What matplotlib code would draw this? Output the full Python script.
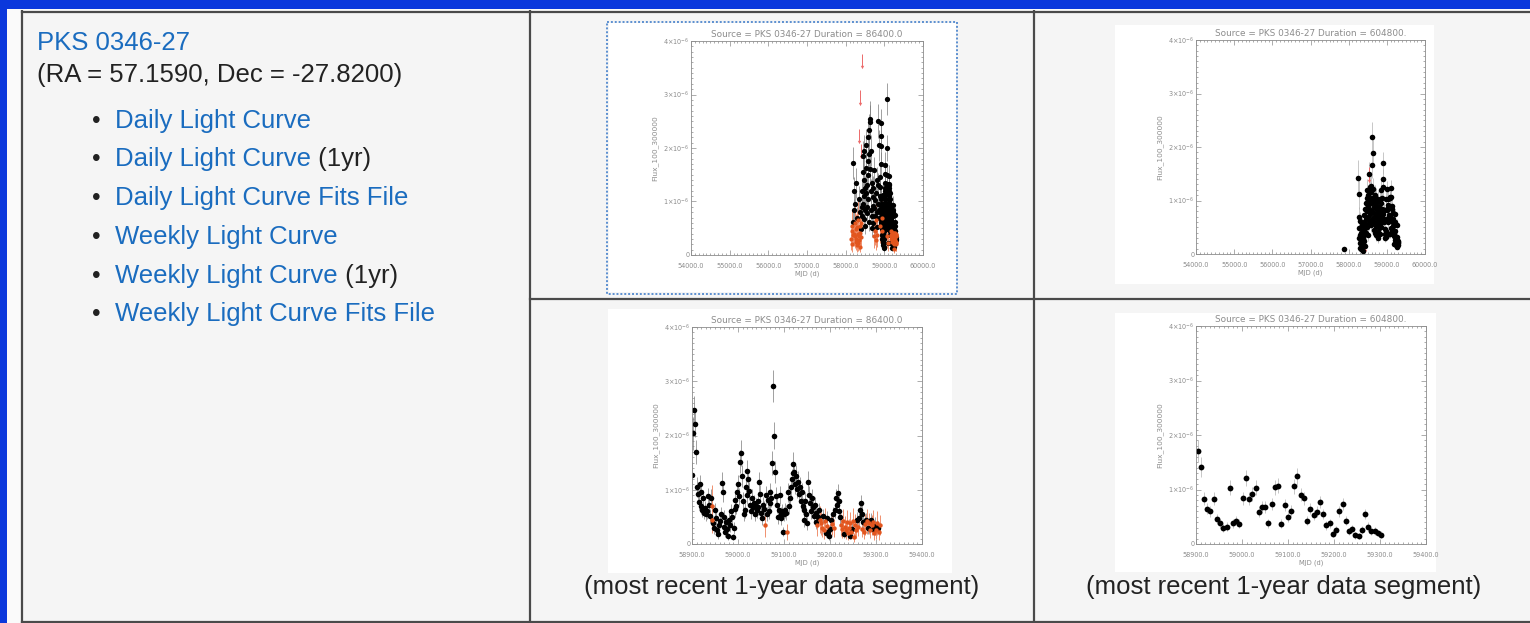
import numpy as np
import matplotlib.pyplot as plt
from matplotlib.patches import Rectangle
from matplotlib.ticker import MultipleLocator, AutoMinorLocator, FuncFormatter

plt.rcParams['font.family'] = ['Liberation Sans', 'DejaVu Sans']
plt.rcParams['mathtext.fontset'] = 'dejavusans'

W, H = 1530, 623  # output size in pixels (dpi 100)

# ---- page text
source_name = "PKS 0346-27"
source_pos = "(RA = 57.1590, Dec = -27.8200)"
link_labels = ["Daily Light Curve", "Daily Light Curve", "Daily Light Curve Fits File",
               "Weekly Light Curve", "Weekly Light Curve", "Weekly Light Curve Fits File"]
link_suffix = ["", " (1yr)", "", "", " (1yr)", ""]
caption = "(most recent 1-year data segment)"

# ---- plot text / ticks
title_daily = "Source = PKS 0346-27 Duration = 86400.0"
title_weekly = "Source = PKS 0346-27 Duration = 604800."
x_label = "MJD (d)"
y_label = "Flux_100_300000"
full_range = (54000, 60000)
recent_range = (58900, 59400)

# ---- daily light curve (flux in 1e-6 ph/cm2/s)
daily_early_start, daily_early_step = 58150.5, 8.0
daily_early_flux = [
    0.30, 0.45, 0.20, 0.55, 0.38, 0.62, 1.72, 1.20, 0.85, 0.40,
    0.95, 0.35, 0.60, 0.25, 0.48, 1.34, 0.30, 0.52, 0.18, 0.70,
    0.40, 0.22, 0.65, 0.35, 1.05, 0.28, 0.55, 0.15, 0.80, 0.42,
    0.33, 0.60, 0.48, 0.90, 1.20, 0.72, 1.55, 0.95, 1.85, 1.10,
    0.68, 1.40, 1.95, 0.85, 1.25, 0.55, 1.62, 2.05, 1.15, 0.78,
    1.30, 0.90, 1.75, 2.20, 1.05, 1.50, 0.62, 2.33, 1.88, 2.55,
    2.48, 1.60, 1.20, 0.85, 1.95, 0.72, 1.35, 0.50, 1.08, 0.92,
    0.60, 1.25, 0.35, 0.88, 1.58, 0.45, 0.72, 1.02, 0.28, 0.65,
    1.15, 0.52, 0.80, 1.40, 0.38, 0.95, 2.50, 1.30, 0.70, 2.05,
    0.85, 1.45, 0.55, 1.10]
daily_early_err = [
    0.20, 0.26, 0.14, 0.30, 0.22, 0.18, 0.30, 0.25, 0.20, 0.24,
    0.22, 0.21, 0.34, 0.16, 0.28, 0.28, 0.19, 0.30, 0.12, 0.20,
    0.24, 0.15, 0.36, 0.20, 0.24, 0.18, 0.30, 0.10, 0.22, 0.26,
    0.20, 0.33, 0.16, 0.20, 0.24, 0.18, 0.26, 0.20, 0.28, 0.22,
    0.17, 0.24, 0.30, 0.20, 0.23, 0.16, 0.26, 0.30, 0.22, 0.18,
    0.24, 0.20, 0.27, 0.30, 0.22, 0.25, 0.17, 0.30, 0.28, 0.32,
    0.32, 0.26, 0.22, 0.19, 0.29, 0.18, 0.23, 0.16, 0.21, 0.20,
    0.17, 0.23, 0.22, 0.19, 0.26, 0.27, 0.18, 0.21, 0.18, 0.35,
    0.22, 0.16, 0.19, 0.24, 0.23, 0.20, 0.32, 0.23, 0.18, 0.29,
    0.20, 0.25, 0.32, 0.21]

daily_recent_start, daily_recent_step = 58900.5, 2.0
daily_recent_flux = [
    1.27, 2.04, 2.47, 2.22, 1.70, 1.05, 0.92, 0.78, 1.10, 0.70,
    0.95, 0.62, 0.84, 0.58, 0.66, 0.55, 0.60, 0.88, 0.72, 0.52,
    0.85, 0.45, 0.70, 0.38, 0.30, 0.62, 0.48, 0.25, 0.18, 0.35,
    0.42, 0.55, 1.12, 0.95, 0.50, 0.32, 0.22, 0.40, 0.28, 0.15,
    0.45, 0.35, 0.60, 0.50, 0.13, 0.30, 0.65, 0.82, 0.70, 0.95,
    1.10, 0.88, 1.52, 1.68, 1.25, 0.80, 0.55, 0.62, 1.05, 0.90,
    1.35, 1.20, 0.98, 0.72, 0.60, 0.85, 0.68, 0.75, 0.55, 0.70,
    0.62, 0.80, 0.68, 1.14, 0.92, 0.58, 0.48, 0.72, 0.65, 0.35,
    0.90, 0.55, 0.82, 0.60, 0.95, 0.75, 0.85, 1.50, 2.91, 2.00,
    1.33, 0.88, 0.72, 0.50, 0.62, 0.90, 0.55, 0.48, 0.60, 0.23,
    0.55, 0.62, 0.58, 0.22, 0.95, 0.70, 0.85, 1.05, 1.20, 1.30,
    1.48, 1.32, 1.10, 1.25, 1.02, 1.15, 0.92, 1.05, 0.80, 0.95,
    0.70, 0.45, 0.62, 0.80, 0.55, 0.38, 1.15, 0.90, 0.75, 0.60,
    0.85, 0.68, 0.52, 0.72, 0.40, 0.58, 0.35, 0.50, 0.62, 0.45,
    0.38, 0.30, 0.52, 0.25, 0.42, 0.20, 0.33, 0.48, 0.22, 0.14,
    0.28, 0.45, 0.36, 0.55, 0.30, 0.62, 0.85, 0.72, 0.94, 0.60,
    0.80, 0.50, 0.35, 0.28, 0.42, 0.18, 0.32, 0.25, 0.40, 0.20,
    0.30, 0.15, 0.38, 0.22, 0.28, 0.42, 0.12, 0.35, 0.25, 0.45,
    0.32, 0.48, 0.62, 0.75, 0.55, 0.28, 0.40, 0.22, 0.36, 0.45,
    0.42, 0.30, 0.38, 0.25, 0.45, 0.35, 0.28, 0.40, 0.20, 0.33,
    0.25, 0.38, 0.30, 0.22, 0.35]
daily_recent_err = [
    0.25, 0.30, 0.25, 0.25, 0.22, 0.18, 0.16, 0.15, 0.18, 0.14,
    0.15, 0.13, 0.15, 0.12, 0.13, 0.12, 0.13, 0.16, 0.15, 0.13,
    0.16, 0.25, 0.38, 0.12, 0.11, 0.14, 0.13, 0.10, 0.08, 0.12,
    0.12, 0.14, 0.20, 0.18, 0.13, 0.12, 0.10, 0.12, 0.10, 0.07,
    0.13, 0.12, 0.14, 0.13, 0.06, 0.11, 0.15, 0.16, 0.15, 0.17,
    0.18, 0.16, 0.22, 0.24, 0.20, 0.15, 0.13, 0.14, 0.18, 0.17,
    0.20, 0.19, 0.17, 0.15, 0.13, 0.16, 0.14, 0.15, 0.13, 0.14,
    0.14, 0.16, 0.15, 0.19, 0.17, 0.14, 0.13, 0.15, 0.14, 0.22,
    0.17, 0.13, 0.16, 0.14, 0.18, 0.15, 0.16, 0.22, 0.30, 0.25,
    0.20, 0.17, 0.15, 0.13, 0.14, 0.17, 0.13, 0.13, 0.14, 0.09,
    0.13, 0.14, 0.13, 0.14, 0.18, 0.15, 0.16, 0.18, 0.19, 0.20,
    0.21, 0.20, 0.18, 0.20, 0.17, 0.19, 0.17, 0.18, 0.16, 0.17,
    0.15, 0.13, 0.14, 0.16, 0.14, 0.12, 0.19, 0.17, 0.15, 0.14,
    0.16, 0.15, 0.13, 0.15, 0.12, 0.14, 0.20, 0.13, 0.14, 0.25,
    0.21, 0.18, 0.13, 0.16, 0.24, 0.08, 0.19, 0.13, 0.09, 0.06,
    0.11, 0.13, 0.20, 0.14, 0.17, 0.14, 0.16, 0.15, 0.17, 0.14,
    0.16, 0.13, 0.20, 0.17, 0.23, 0.07, 0.19, 0.15, 0.22, 0.12,
    0.17, 0.06, 0.21, 0.13, 0.11, 0.24, 0.08, 0.20, 0.14, 0.14,
    0.18, 0.14, 0.14, 0.15, 0.22, 0.16, 0.12, 0.13, 0.20, 0.13,
    0.23, 0.11, 0.20, 0.14, 0.13, 0.19, 0.10, 0.22, 0.12, 0.16,
    0.15, 0.22, 0.12, 0.14, 0.19]

daily_ul_mjd = [58410, 58365, 58340, 58402]
daily_ul_flux = [3.76, 3.08, 2.36, 2.08]

# ---- weekly light curve (flux in 1e-6 ph/cm2/s)
weekly_lone_mjd = [57886.5]
weekly_lone_flux = [0.10]
weekly_lone_err = [0.04]
weekly_start, weekly_step = 58252.5, 7.0
weekly_flux = [
    1.42, 1.12, 0.70, 0.30, 0.48, 0.20, 0.62, 0.12, 0.35, 0.25,
    0.10, 0.40, 0.22, 0.55, 0.15, 0.30, 0.06, 0.45, 0.28, 0.18,
    0.35, 0.60, 0.25, 0.72, 0.48, 0.15, 0.85, 0.55, 0.40, 0.95,
    0.65, 1.05, 0.50, 0.80, 1.20, 0.35, 0.90, 0.70, 1.10, 0.58,
    1.50, 0.85, 1.25, 0.62, 1.00, 0.75, 1.28, 0.95, 0.55, 1.15,
    0.80, 1.66, 1.05, 2.19, 1.89, 1.22, 0.68, 1.00, 0.45, 0.88,
    0.60, 1.10, 0.75, 0.40, 0.95, 0.52, 0.70, 1.05, 0.35, 0.82,
    0.58, 0.90, 0.42, 0.65, 1.00, 0.30, 0.72, 0.55, 0.88, 0.48,
    0.62, 1.02, 0.38, 0.78, 0.95, 0.50, 1.20, 0.70, 0.85, 0.60,
    1.05, 0.75, 1.25,
    1.70, 1.41, 0.83, 0.65, 0.60, 0.83, 0.46, 0.38, 0.29, 0.32,
    1.03, 0.38, 0.43, 0.37, 0.84, 1.21, 0.83, 0.92, 1.03, 0.59,
    0.67, 0.67, 0.38, 0.73, 1.04, 1.07, 0.37, 0.71, 0.49, 0.61,
    1.06, 1.24, 0.90, 0.84, 0.43, 0.65, 0.53, 0.59, 0.77, 0.55,
    0.34, 0.38, 0.19, 0.26, 0.60, 0.74, 0.43, 0.23, 0.28, 0.16,
    0.14, 0.26, 0.55, 0.32, 0.23, 0.24, 0.20, 0.17]
weekly_err = [
    0.33, 0.28, 0.18, 0.10, 0.14, 0.08, 0.16, 0.06, 0.11, 0.09,
    0.05, 0.12, 0.08, 0.14, 0.06, 0.10, 0.03, 0.13, 0.09, 0.07,
    0.11, 0.15, 0.09, 0.16, 0.13, 0.06, 0.17, 0.14, 0.12, 0.18,
    0.15, 0.19, 0.13, 0.16, 0.20, 0.11, 0.17, 0.15, 0.19, 0.14,
    0.22, 0.17, 0.20, 0.14, 0.18, 0.16, 0.21, 0.18, 0.13, 0.19,
    0.16, 0.24, 0.18, 0.28, 0.26, 0.20, 0.15, 0.18, 0.12, 0.17,
    0.14, 0.19, 0.16, 0.11, 0.18, 0.13, 0.15, 0.19, 0.10, 0.16,
    0.14, 0.17, 0.12, 0.15, 0.18, 0.10, 0.15, 0.13, 0.17, 0.13,
    0.14, 0.18, 0.11, 0.16, 0.17, 0.13, 0.20, 0.15, 0.16, 0.14,
    0.18, 0.15, 0.20,
    0.20, 0.18, 0.12, 0.10, 0.10, 0.12, 0.09, 0.08, 0.07, 0.08,
    0.14, 0.08, 0.09, 0.08, 0.12, 0.15, 0.12, 0.13, 0.14, 0.10,
    0.11, 0.11, 0.08, 0.11, 0.14, 0.14, 0.08, 0.11, 0.09, 0.10,
    0.14, 0.15, 0.12, 0.12, 0.09, 0.10, 0.09, 0.10, 0.11, 0.09,
    0.08, 0.08, 0.06, 0.07, 0.10, 0.11, 0.09, 0.07, 0.07, 0.06,
    0.05, 0.07, 0.10, 0.08, 0.07, 0.07, 0.06, 0.06]
weekly_ul_mjd = [58530, 58440]
weekly_ul_flux = [1.62, 0.30]

# colours
page_blue = '#0b38dc'
cell_bg = '#f5f5f5'
rule_col = '#4a4a4a'
link_col = '#1a6cbf'
text_col = '#222222'
idl_grey = '#8c8c8c'
low_ts = '#e2561f'
low_ts_bar = '#f0906e'
ul_red = '#ec6a6a'


def grid_mjd(start, step, n):
    return start + step * np.arange(n)


daily_mjd = np.concatenate([grid_mjd(daily_early_start, daily_early_step, len(daily_early_flux)),
                            grid_mjd(daily_recent_start, daily_recent_step, len(daily_recent_flux))])
daily_flux = np.array(daily_early_flux + daily_recent_flux)
daily_err = np.array(daily_early_err + daily_recent_err)

weekly_mjd = np.concatenate([weekly_lone_mjd, grid_mjd(weekly_start, weekly_step, len(weekly_flux))])
weekly_all_flux = np.array(weekly_lone_flux + weekly_flux)
weekly_all_err = np.array(weekly_lone_err + weekly_err)


fig = plt.figure(figsize=(W / 100, H / 100), dpi=100)
fig.patch.set_facecolor(page_blue)

# page layer in pixel coordinates
page = fig.add_axes([0, 0, 1, 1])
page.set_xlim(0, W)
page.set_ylim(H, 0)
page.axis('off')

page.add_patch(Rectangle((7, 9), W - 7, H - 9, color='#fafafa', lw=0))
page.add_patch(Rectangle((22, 11), W - 22, H - 11, color=cell_bg, lw=0))
for x in [22.5, 530.5, 1034.5]:
    page.plot([x, x], [10, H], color=rule_col, lw=1.6, solid_capstyle='butt')
page.plot([22, W], [11.5, 11.5], color=rule_col, lw=1.6)
page.plot([530, W], [298.5, 298.5], color=rule_col, lw=1.6)
page.plot([22, W], [621.5, 621.5], color=rule_col, lw=1.6)

# white plot images
for (x0, y0, x1, y1) in [(609, 23, 956, 292), (1115, 25, 1434, 284),
                         (608, 309, 952, 573), (1115, 313, 1436, 572)]:
    page.add_patch(Rectangle((x0, y0), x1 - x0, y1 - y0, color='white', lw=0))
page.add_patch(Rectangle((607.5, 21.5), 350, 272, fill=False, ec='#5b8fd0', lw=1.4,
                         ls=(0, (1, 1))))

# left cell text
page.text(37, 50, source_name, fontsize=18.5, color=link_col, va='baseline')
page.text(37, 82, source_pos, fontsize=18.5, color=text_col, va='baseline')
for i, (lab, suf) in enumerate(zip(link_labels, link_suffix)):
    yb = 127.7 + 38.7 * i
    page.text(96, yb, "\u2022", fontsize=17.5, color=text_col, va='baseline', ha='center')
    t = page.text(115, yb, lab, fontsize=18.5, color=link_col, va='baseline')
    if suf:
        page.annotate(suf, xy=(1, 0), xycoords=t, fontsize=18.5, color=text_col,
                      va='bottom', ha='left')

for xc in [782, 1284]:
    page.text(xc, 594, caption, fontsize=18.5, color=text_col, va='baseline', ha='center')


def px_axes(x0, y0, x1, y1):
    return fig.add_axes([x0 / W, 1 - y1 / H, (x1 - x0) / W, (y1 - y0) / H])


def flux_label(v, pos):
    if abs(v) < 1e-9:
        return "0"
    return r"$%d{\times}10^{-6}$" % round(v)


def idl_frame(ax, title, xr, xstep):
    ax.set_facecolor('white')
    ax.set_xlim(*xr)
    ax.set_ylim(0, 4)
    ax.xaxis.set_major_locator(MultipleLocator(xstep))
    ax.xaxis.set_minor_locator(AutoMinorLocator(10))
    ax.yaxis.set_major_locator(MultipleLocator(1))
    ax.yaxis.set_minor_locator(AutoMinorLocator(10))
    ax.xaxis.set_major_formatter(FuncFormatter(lambda v, p: "%.1f" % v))
    ax.yaxis.set_major_formatter(FuncFormatter(flux_label))
    ax.tick_params(which='both', direction='in', top=True, right=True,
                   color=idl_grey, labelcolor=idl_grey, labelsize=4.7, width=0.5)
    ax.tick_params(which='major', length=3.5)
    ax.tick_params(which='minor', length=1.6)
    ax.tick_params(axis='x', pad=5.5)
    ax.tick_params(axis='y', pad=1.2)
    for lab in ax.get_xticklabels() + ax.get_yticklabels():
        lab.set_family('DejaVu Sans')
    for s in ax.spines.values():
        s.set_color(idl_grey)
        s.set_linewidth(0.6)
    ax.set_title(title, fontsize=6.4, color=idl_grey, pad=3, family='DejaVu Sans')
    ax.set_xlabel(x_label, fontsize=4.9, color=idl_grey, labelpad=1.5, family='DejaVu Sans')
    ax.set_ylabel(y_label, fontsize=5.4, color=idl_grey, labelpad=3.5, family='DejaVu Sans')


def draw_points(ax, mjd, flux, err, ms=3.8, bar='#7a7a7a'):
    faint = flux < 2 * err
    ax.errorbar(mjd[~faint], flux[~faint], yerr=err[~faint], fmt='o', ms=ms, mew=0,
                color='black', ecolor=bar, elinewidth=0.5, capsize=0)
    ax.errorbar(mjd[faint], flux[faint], yerr=err[faint], fmt='o', ms=ms * 0.8, mew=0,
                color=low_ts, ecolor=low_ts_bar, elinewidth=0.7, capsize=0)


def draw_limits(ax, mjd, flux):
    flux = np.asarray(flux)
    ax.vlines(mjd, flux - 0.25, flux, color=ul_red, lw=0.7)
    ax.plot(mjd, flux - 0.25, 'v', ms=2.4, mew=0, color=ul_red)


recent_d = daily_mjd >= recent_range[0]
recent_w = weekly_mjd >= recent_range[0]

# daily, full span
ax = px_axes(691, 41, 923, 255)
idl_frame(ax, title_daily, full_range, 1000)
draw_points(ax, daily_mjd, daily_flux, daily_err)
draw_limits(ax, daily_ul_mjd, daily_ul_flux)

# weekly, full span
ax = px_axes(1196, 40, 1425, 254)
idl_frame(ax, title_weekly, full_range, 1000)
draw_points(ax, weekly_mjd, weekly_all_flux, weekly_all_err, ms=4.0, bar='#b0b0b0')
draw_limits(ax, weekly_ul_mjd, weekly_ul_flux)

# daily, last year
ax = px_axes(692, 327, 922, 544)
idl_frame(ax, title_daily, recent_range, 100)
draw_points(ax, daily_mjd[recent_d], daily_flux[recent_d], daily_err[recent_d], ms=4.0)

# weekly, last year
ax = px_axes(1196, 326, 1426, 544)
idl_frame(ax, title_weekly, recent_range, 100)
draw_points(ax, weekly_mjd[recent_w], weekly_all_flux[recent_w], weekly_all_err[recent_w],
            ms=4.2, bar='#b0b0b0')

fig.savefig("out.png", dpi=100, facecolor=fig.get_facecolor())
